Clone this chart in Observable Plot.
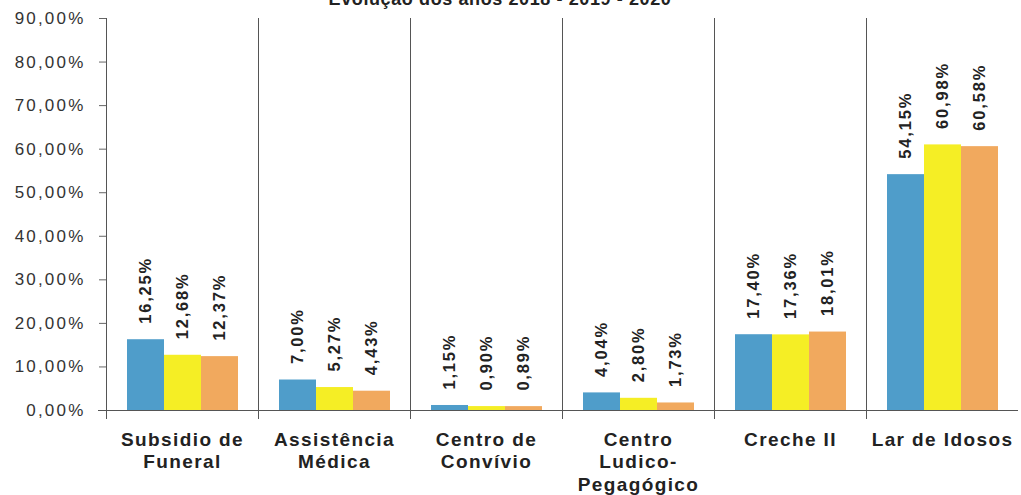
<!DOCTYPE html>
<html>
<head>
<meta charset="utf-8">
<script src="https://cdn.jsdelivr.net/npm/d3@7"></script>
<script src="https://cdn.jsdelivr.net/npm/@observablehq/plot@0.6"></script>
<style>
  html, body { margin: 0; padding: 0; background: #fff; overflow: hidden; }
  #wrap { position: relative; width: 1021px; height: 495px; }
  #title { position: absolute; top: -10px; left: 0; width: 1000px; text-align: center;
           font: bold 18px "Liberation Sans", Arial, sans-serif; letter-spacing: 0.6px; color: #222; line-height: 18px; z-index: 2; }
  g[aria-label="y-axis tick label"] text { letter-spacing: 2.2px; }
  g[aria-label="fx-axis tick label"] text { letter-spacing: 1.4px; }
  g[aria-label="text"] text { letter-spacing: 1.8px; }
</style>
</head>
<body>
<div id="wrap">
  <div id="title">Evolução dos anos 2018 - 2019 - 2020</div>
  <div id="chart"></div>
</div>
<script>
const categories = ["Subsidio de Funeral", "Assistência Médica", "Centro de Convívio", "Centro Ludico-Pegagógico", "Creche II", "Lar de Idosos"];
const tickLabels = ["Subsidio de\nFuneral", "Assistência\nMédica", "Centro de\nConvívio", "Centro\nLudico-\nPegagógico", "Creche II", "Lar de Idosos"];
const years = ["2018", "2019", "2020"];
const values2018 = [16.25, 7.00, 1.15, 4.04, 17.40, 54.15];
const values2019 = [12.68, 5.27, 0.90, 2.80, 17.36, 60.98];
const values2020 = [12.37, 4.43, 0.89, 1.73, 18.01, 60.58];
const colors = ["#4f9dca", "#f5ee25", "#f1a95e"];
const yTicks = [0, 10, 20, 30, 40, 50, 60, 70, 80, 90];

const series = [values2018, values2019, values2020];
const data = categories.flatMap((c, i) => years.map((y, j) => ({category: c, year: y, value: series[j][i]})));
const pct = v => v.toFixed(2).replace(".", ",") + "%";

const chart = Plot.plot({
  width: 1021,
  height: 495,
  marginLeft: 105,
  marginRight: 3,
  marginTop: 18,
  marginBottom: 85,
  style: {fontFamily: "'Liberation Sans', Arial, sans-serif", background: "transparent", color: "#222"},
  fx: {domain: categories, padding: 0, label: null},
  x: {domain: years, paddingInner: 0, paddingOuter: 0.52, axis: null},
  y: {domain: [0, 90], label: null, axis: null},
  color: {domain: years, range: colors},
  marks: [
    Plot.frame({anchor: "left", stroke: "#555", strokeWidth: 1, insetBottom: -8}),
    Plot.barY(data, {fx: "category", x: "year", y: "value", fill: "year"}),
    Plot.text(data, {fx: "category", x: "year", y: "value", text: d => pct(d.value), rotate: -90,
      textAnchor: "start", dy: -16, fontWeight: "bold", fontSize: 16.5, fill: "#222"}),
    Plot.axisY(yTicks, {tickFormat: pct, tickSize: 7, tickPadding: 14, fontSize: 17, color: "#333", stroke: "#666"}),
    Plot.axisFx({anchor: "bottom", tickFormat: d => tickLabels[categories.indexOf(d)], tickSize: 0, tickPadding: 19,
      fontSize: 19, fontWeight: "bold", lineHeight: 1.2, fill: "#222"}),
    Plot.ruleY([0], {stroke: "#555", insetLeft: -8})
  ]
});
document.getElementById("chart").appendChild(chart);
</script>
</body>
</html>
